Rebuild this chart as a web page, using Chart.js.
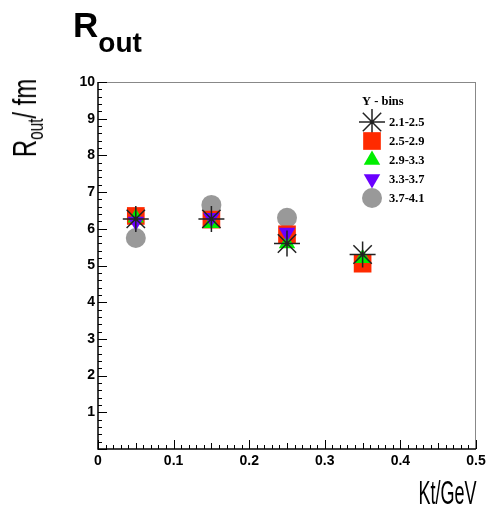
<!DOCTYPE html>
<html>
<head>
<meta charset="utf-8">
<script src="https://cdn.jsdelivr.net/npm/chart.js@4/dist/chart.umd.min.js"></script>
<style>
  body { margin: 0; background: #fff; }
  #wrap { position: relative; width: 493px; height: 506px; }
  .lbl { position: absolute; color: #000; white-space: nowrap; line-height: 1; }
  #title { left: 73px; top: 5px; font: bold 35px "Liberation Sans", Arial, sans-serif; }
  #title sub { font-size: 28px; vertical-align: -15px; }
  #ytitle { left: 27px; top: 118px; font: 34px "Liberation Sans", Arial, sans-serif;
            transform: translate(-50%, -50%) rotate(-90deg) scaleX(0.7); }
  #ytitle sub { font-size: 22px; vertical-align: -7px; }
  #xtitle { right: 16px; top: 473px; font: 34px "Liberation Sans", Arial, sans-serif;
            transform: scaleX(0.53); transform-origin: right top; }
</style>
</head>
<body>
<div id="wrap">
  <canvas id="chart" width="493" height="506"></canvas>
  <div class="lbl" id="title">R<sub>out</sub></div>
  <div class="lbl" id="ytitle">R<sub>out</sub>/ fm</div>
  <div class="lbl" id="xtitle">Kt/GeV</div>
</div>
<script>
// data
const ktValues = [0.05, 0.15, 0.25, 0.35];
const binLabels = ['2.1-2.5', '2.5-2.9', '2.9-3.3', '3.3-3.7', '3.7-4.1'];
const rOut_21_25 = [6.27, 6.27, 5.6, 5.3];
const rOut_25_29 = [6.35, 6.25, 5.85, 5.05];
const rOut_29_33 = [6.3, 6.15, 5.6, 5.2];
const rOut_33_37 = [6.2, 6.3, 5.9, null];
const rOut_37_41 = [5.75, 6.65, 6.3, null];
const xTicks = [0, 0.1, 0.2, 0.3, 0.4, 0.5];
const yTicks = [1, 2, 3, 4, 5, 6, 7, 8, 9, 10];

// marker styles per Y bin (layer: lower number is drawn on top)
const markers = [
    { pointStyle: 'star', radius: 13, rotation: 0, fill: 'rgba(0,0,0,0)', stroke: '#222', borderWidth: 1.5, layer: 0 },
    { pointStyle: 'rect', radius: 12.5, rotation: 0, fill: '#ff2a00', stroke: '#ff2a00', borderWidth: 0, layer: 3 },
    { pointStyle: 'triangle', radius: 9.5, rotation: 0, fill: '#00ee00', stroke: '#00ee00', borderWidth: 0, layer: 2 },
    { pointStyle: 'triangle', radius: 9.5, rotation: 180, fill: '#6a00ff', stroke: '#6a00ff', borderWidth: 0, layer: 1 },
    { pointStyle: 'circle', radius: 10, rotation: 0, fill: '#999999', stroke: '#999999', borderWidth: 0, layer: 4 }
];

const seriesValues = [rOut_21_25, rOut_25_29, rOut_29_33, rOut_33_37, rOut_37_41];

const datasets = seriesValues.map((vals, i) => ({
    label: binLabels[i],
    order: markers[i].layer,
    data: ktValues.map((x, j) => ({ x: x, y: vals[j] })).filter(p => p.y !== null),
    pointStyle: markers[i].pointStyle,
    pointRadius: markers[i].radius,
    pointRotation: markers[i].rotation,
    backgroundColor: markers[i].fill,
    borderColor: markers[i].stroke,
    borderWidth: markers[i].borderWidth
}));

// ROOT-like frame with inward ticks
const framePlugin = {
    id: 'frame',
    beforeDatasetsDraw(chart) {
        const ctx = chart.ctx;
        const a = chart.chartArea;
        const xs = chart.scales.x, ys = chart.scales.y;
        ctx.save();
        ctx.strokeStyle = '#888';
        ctx.lineWidth = 1;
        ctx.beginPath();
        ctx.moveTo(a.left, a.top + 0.5); ctx.lineTo(a.right, a.top + 0.5);
        ctx.moveTo(a.right - 0.5, a.top); ctx.lineTo(a.right - 0.5, a.bottom);
        ctx.stroke();

        ctx.strokeStyle = '#000';
        ctx.lineWidth = 1.5;
        ctx.beginPath();
        ctx.moveTo(a.left, a.top); ctx.lineTo(a.left, a.bottom); ctx.lineTo(a.right, a.bottom);
        ctx.stroke();

        ctx.lineWidth = 1;
        ctx.beginPath();
        // x ticks: major 0.1, minor 0.01
        for (let k = 0; k <= 50; k++) {
            const px = Math.round(xs.getPixelForValue(k / 100)) + 0.5;
            const len = (k % 10 === 0) ? 9 : (k % 5 === 0 ? 6 : 4);
            ctx.moveTo(px, a.bottom); ctx.lineTo(px, a.bottom - len);
        }
        // y ticks: major 1, minor 0.2
        for (let k = 0; k <= 50; k++) {
            const py = Math.round(ys.getPixelForValue(k / 5)) + 0.5;
            const len = (k % 5 === 0) ? 9 : 4;
            ctx.moveTo(a.left, py); ctx.lineTo(a.left + len, py);
        }
        ctx.stroke();
        ctx.restore();
    }
};

// legend in the upper right of the frame
const legendPlugin = {
    id: 'rootLegend',
    afterDatasetsDraw(chart) {
        const ctx = chart.ctx;
        ctx.save();
        ctx.fillStyle = '#000';
        ctx.textBaseline = 'middle';
        ctx.font = 'bold 12.5px "Liberation Serif", "DejaVu Serif", serif';
        ctx.fillText('Y - bins', 362, 102);
        binLabels.forEach((lab, i) => {
            const y = 122 + i * 19;
            const m = markers[i];
            ctx.fillStyle = m.fill;
            ctx.strokeStyle = m.stroke;
            ctx.lineWidth = m.borderWidth;
            Chart.helpers.drawPoint(ctx, {
                pointStyle: m.pointStyle,
                radius: m.radius,
                rotation: m.rotation,
                borderWidth: m.borderWidth
            }, 372, y);
            ctx.fillStyle = '#000';
            ctx.fillText(lab, 389, y + 1);
        });
        ctx.restore();
    }
};

new Chart(document.getElementById('chart'), {
    type: 'scatter',
    data: { datasets: datasets },
    options: {
        responsive: false,
        animation: false,
        events: [],
        layout: { padding: { left: 0, top: 82, right: 17, bottom: 0 } },
        plugins: {
            legend: { display: false },
            tooltip: { enabled: false }
        },
        scales: {
            x: {
                type: 'linear',
                min: 0,
                max: 0.5,
                afterFit: s => { s.height = 57; },
                afterBuildTicks: s => { s.ticks = xTicks.map(v => ({ value: v })); },
                grid: { display: false, drawTicks: false },
                border: { display: false },
                ticks: {
                    padding: 4,
                    color: '#000',
                    font: { family: '"Liberation Sans", Arial, sans-serif', size: 14, weight: 'bold' },
                    callback: v => String(Math.round(v * 10) / 10)
                }
            },
            y: {
                min: 0,
                max: 10,
                afterFit: s => { s.width = 98; },
                afterBuildTicks: s => { s.ticks = yTicks.map(v => ({ value: v })); },
                grid: { display: false, drawTicks: false },
                border: { display: false },
                ticks: {
                    padding: 3,
                    color: '#000',
                    font: { family: '"Liberation Sans", Arial, sans-serif', size: 14, weight: 'bold' }
                }
            }
        }
    },
    plugins: [framePlugin, legendPlugin]
});
</script>
</body>
</html>
